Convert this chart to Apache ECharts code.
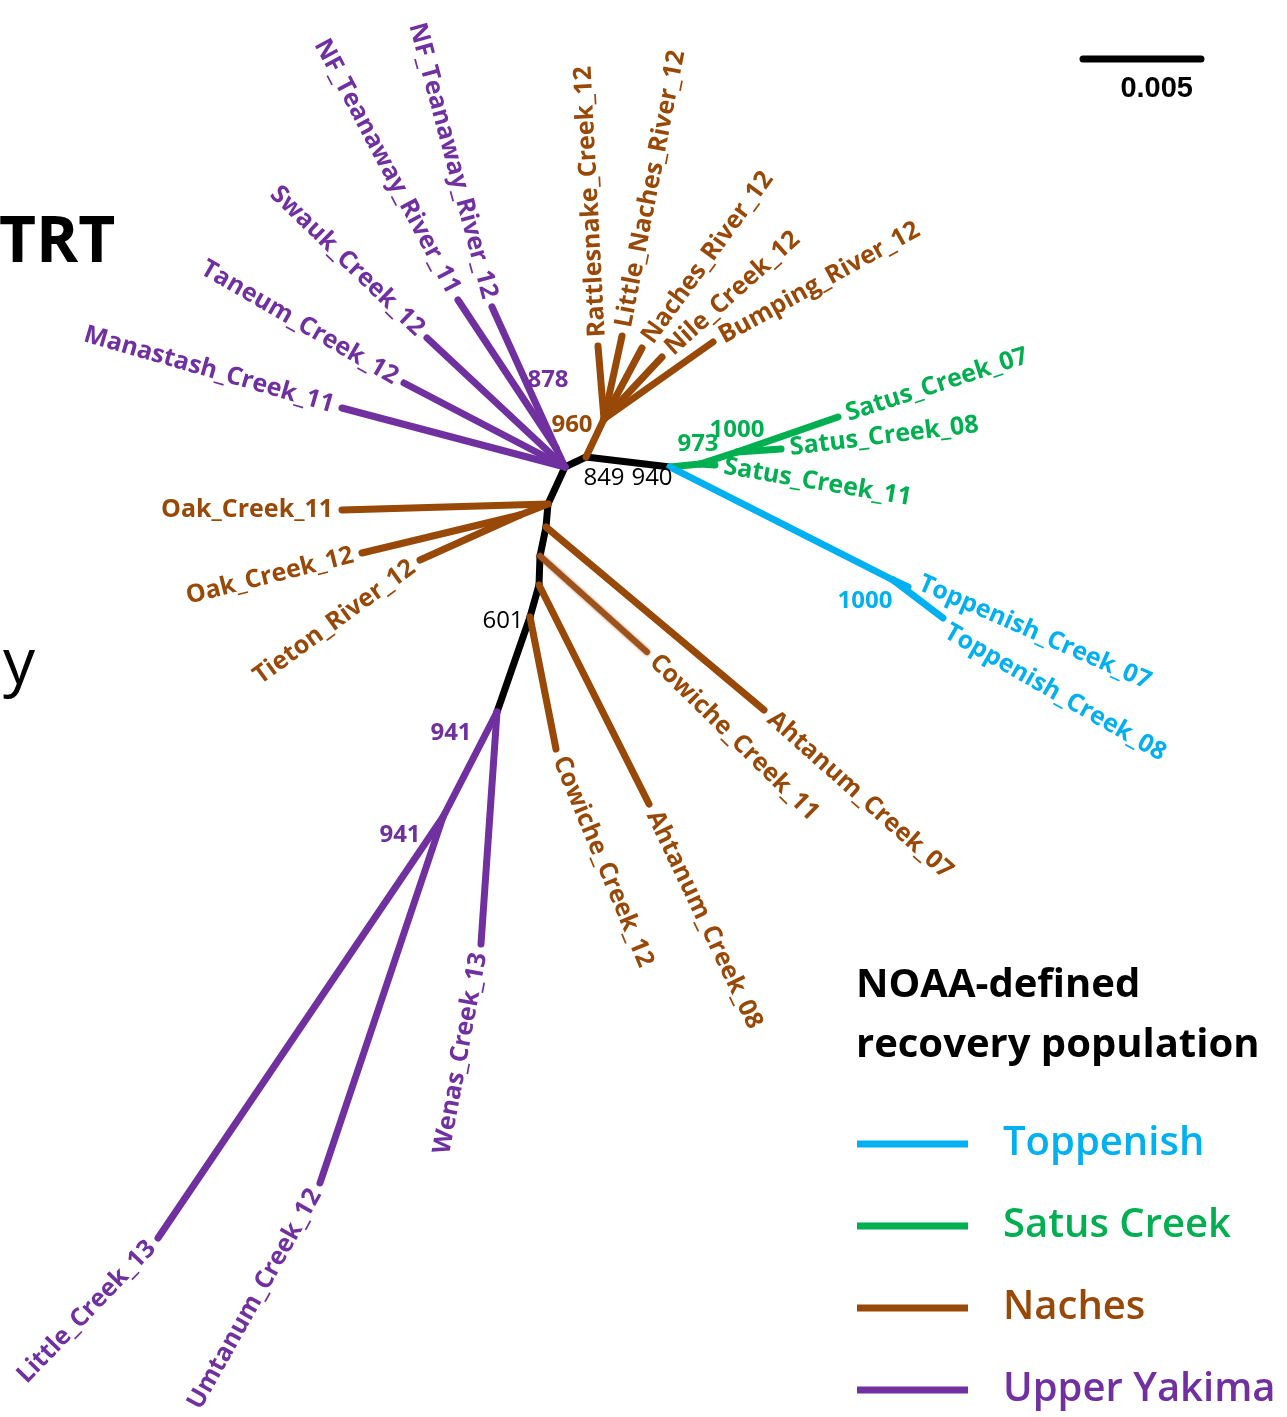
<!DOCTYPE html>
<html>
<head>
<meta charset="utf-8">
<title>Yakima steelhead NJ tree</title>
<script src="https://cdn.jsdelivr.net/npm/echarts@6/dist/echarts.min.js"></script>
<style>
  html, body { margin: 0; padding: 0; background: #ffffff; }
  #chart { width: 1287px; height: 1417px; }
</style>
</head>
<body>
<div id="chart"></div>
<script>
// Unrooted neighbour-joining tree of Yakima basin steelhead collections.
// Node positions are given in layout units (x to the right, y downward);
// 118 layout units correspond to 0.005 substitutions/site (scale bar).

const populations = ['Toppenish', 'Satus Creek', 'Naches', 'Upper Yakima'];

// Internal nodes of the tree
const nodeIds     = ['c', 'yak', 'nf', 'nchUp', 'sat', 'g973', 'g1000', 'top', 'oak', 'oak2', 'a7', 'c11', 'a8', 'n601', 'w941', 'lu941'];
const nodeX       = [586, 565, 556, 604, 670, 700, 737, 893, 548, 520, 546, 540, 539, 530, 497, 443];
const nodeY       = [457, 467, 448, 419, 467, 464, 452, 580, 504, 515, 527, 556, 585, 617, 712, 817];
const nodeParent  = [null, 'c', 'yak', 'c', 'c', 'sat', 'g973', 'sat', 'yak', 'oak', 'oak', 'a7', 'c11', 'a8', 'n601', 'w941'];
const nodeGroup   = ['backbone', 'backbone', 'Upper Yakima', 'Naches', 'backbone', 'Satus Creek', 'Satus Creek', 'Toppenish',
                     'backbone', 'Naches', 'backbone', 'backbone', 'backbone', 'backbone', 'backbone', 'Upper Yakima'];
const nodeSupport = [849, null, 878, 960, 940, 973, 1000, 1000, null, null, null, null, null, 601, 941, 941];

// Terminal collections
const tipNames = [
  'Manastash_Creek_11', 'Taneum_Creek_12', 'Swauk_Creek_12', 'NF_Teanaway_River_11', 'NF_Teanaway_River_12',
  'Rattlesnake_Creek_12', 'Little_Naches_River_12', 'Naches_River_12', 'Nile_Creek_12', 'Bumping_River_12',
  'Satus_Creek_07', 'Satus_Creek_08', 'Satus_Creek_11', 'Toppenish_Creek_07', 'Toppenish_Creek_08',
  'Oak_Creek_11', 'Oak_Creek_12', 'Tieton_River_12', 'Ahtanum_Creek_07', 'Cowiche_Creek_11',
  'Ahtanum_Creek_08', 'Cowiche_Creek_12', 'Wenas_Creek_13', 'Umtanum_Creek_12', 'Little_Creek_13'
];
const tipX = [342, 404, 427, 458, 492, 598, 622, 642, 662, 713, 838, 781, 715, 908, 943, 342, 362, 420, 764, 647, 649, 556, 481, 320, 158];
const tipY = [408, 383, 338, 300, 307, 346, 336, 348, 357, 342, 417, 449, 465, 587, 618, 510, 553, 560, 710, 652, 804, 749, 944, 1183, 1238];
const tipParent = [
  'yak', 'yak', 'yak', 'nf', 'nf',
  'nchUp', 'nchUp', 'nchUp', 'nchUp', 'nchUp',
  'g1000', 'g1000', 'g973', 'top', 'top',
  'oak', 'oak2', 'oak2', 'a7', 'c11',
  'a8', 'n601', 'w941', 'lu941', 'lu941'
];
const tipGroup = [
  'Upper Yakima', 'Upper Yakima', 'Upper Yakima', 'Upper Yakima', 'Upper Yakima',
  'Naches', 'Naches', 'Naches', 'Naches', 'Naches',
  'Satus Creek', 'Satus Creek', 'Satus Creek', 'Toppenish', 'Toppenish',
  'Naches', 'Naches', 'Naches', 'Naches', 'Naches',
  'Naches', 'Naches', 'Upper Yakima', 'Upper Yakima', 'Upper Yakima'
];

// Scale bar
const scaleBarSubst = 0.005;
const layoutUnitsPerSubst = 23600;

// ---------- styling ----------
const COLORS = {
  'Toppenish': '#00b0f0',
  'Satus Creek': '#00b050',
  'Naches': '#984807',
  'Upper Yakima': '#7030a0',
  'backbone': '#000000'
};
const BRANCH_WIDTH = 7;
const LABEL_FONT = '"Open Sans", sans-serif';
const LABEL_GAP = 9;

// direction (degrees, clockwise from +x on screen) in which each tip label runs away from its tip
const tipLabelAngle = {
  Manastash_Creek_11: 196, Taneum_Creek_12: 210, Swauk_Creek_12: 224, NF_Teanaway_River_11: 242, NF_Teanaway_River_12: 255,
  Rattlesnake_Creek_12: 267, Little_Naches_River_12: 281, Naches_River_12: 306, Nile_Creek_12: 318, Bumping_River_12: 331,
  Satus_Creek_07: 342, Satus_Creek_08: 353, Satus_Creek_11: 9.6, Toppenish_Creek_07: 23.6, Toppenish_Creek_08: 29.8,
  Oak_Creek_11: 180, Oak_Creek_12: 166, Tieton_River_12: 144, Ahtanum_Creek_07: 41.6, Cowiche_Creek_11: 44.5,
  Ahtanum_Creek_08: 64.5, Cowiche_Creek_12: 67.4, Wenas_Creek_13: 100.5, Umtanum_Creek_12: 119.3, Little_Creek_13: 134
};
// sideways nudge (px, clockwise-perpendicular) to keep neighbouring labels apart
const tipLabelShift = { Toppenish_Creek_07: -9, Toppenish_Creek_08: 9 };

// bootstrap value placement (pixel offset from the node) and colour overrides
const supportStyle = {
  c:     { dx: 18,  dy: 21,  color: 'backbone' },
  nf:    { dx: -8,  dy: -68 },
  nchUp: { dx: -32, dy: 6 },
  sat:   { dx: -18, dy: 11,  color: 'backbone' },
  g973:  { dx: -2,  dy: -20 },
  g1000: { dx: 0,   dy: -22 },
  top:   { dx: -28, dy: 21 },
  n601:  { dx: -27, dy: 4,   color: 'backbone' },
  w941:  { dx: -46, dy: 21,  color: 'Upper Yakima' },
  lu941: { dx: -43, dy: 18 }
};

// branches drawn with a softened edge
const softBranches = ['Cowiche_Creek_11'];

// ---------- build edge list ----------
function nodeCoord(id) {
  const i = nodeIds.indexOf(id);
  return [nodeX[i], nodeY[i]];
}
const edges = [];
nodeIds.forEach((id, i) => {
  if (nodeParent[i]) {
    const p = nodeCoord(nodeParent[i]);
    edges.push({ name: id, group: nodeGroup[i], value: [p[0], p[1], nodeX[i], nodeY[i]] });
  }
});
tipNames.forEach((name, i) => {
  const p = nodeCoord(tipParent[i]);
  edges.push({ name: name, group: tipGroup[i], value: [p[0], p[1], tipX[i], tipY[i]] });
});

function branchSeries(group, z) {
  const data = edges.filter(e => e.group === group).map(e => ({ name: e.name, value: e.value }));
  return {
    type: 'custom',
    name: group,
    coordinateSystem: 'cartesian2d',
    silent: true,
    z: z,
    itemStyle: { color: COLORS[group] },
    encode: { x: [0, 2], y: [1, 3] },
    data: data,
    renderItem: function (params, api) {
      const a = api.coord([api.value(0), api.value(1)]);
      const b = api.coord([api.value(2), api.value(3)]);
      const soft = softBranches.indexOf(data[params.dataIndex].name) >= 0;
      const style = { stroke: COLORS[group], lineWidth: BRANCH_WIDTH, lineCap: 'round' };
      if (soft) {
        style.stroke = '#9c521a';
        style.lineWidth = BRANCH_WIDTH - 1;
        style.shadowBlur = 3;
        style.shadowColor = 'rgba(156,82,26,0.8)';
      }
      return { type: 'line', shape: { x1: a[0], y1: a[1], x2: b[0], y2: b[1] }, style: style };
    }
  };
}

const tipLabelSeries = {
  type: 'custom',
  coordinateSystem: 'cartesian2d',
  silent: true,
  z: 5,
  encode: { x: 0, y: 1 },
  data: tipNames.map((n, i) => [tipX[i], tipY[i], i]),
  renderItem: function (params, api) {
    const i = api.value(2);
    const name = tipNames[i];
    const p = api.coord([api.value(0), api.value(1)]);
    const th = tipLabelAngle[name] * Math.PI / 180;
    const flip = Math.cos(th) < -0.1;
    const phi = flip ? th - Math.PI : th;
    const s = tipLabelShift[name] || 0;
    return {
      type: 'text',
      x: p[0] + LABEL_GAP * Math.cos(th) - s * Math.sin(th),
      y: p[1] + LABEL_GAP * Math.sin(th) + s * Math.cos(th),
      rotation: -phi,
      style: {
        text: name,
        fill: COLORS[tipGroup[i]],
        fontFamily: LABEL_FONT,
        fontWeight: 700,
        fontSize: 25,
        align: flip ? 'right' : 'left',
        verticalAlign: 'middle'
      }
    };
  }
};

const supportIdx = nodeIds.map((id, i) => i).filter(i => nodeSupport[i] != null);
const supportSeries = {
  type: 'custom',
  coordinateSystem: 'cartesian2d',
  silent: true,
  z: 6,
  encode: { x: 0, y: 1 },
  data: supportIdx.map(i => [nodeX[i], nodeY[i], i]),
  renderItem: function (params, api) {
    const i = api.value(2);
    const st = supportStyle[nodeIds[i]] || { dx: 0, dy: 0 };
    const colorKey = st.color || nodeGroup[i];
    const p = api.coord([api.value(0), api.value(1)]);
    return {
      type: 'text',
      x: p[0] + st.dx,
      y: p[1] + st.dy,
      style: {
        text: String(nodeSupport[i]),
        fill: COLORS[colorKey],
        fontFamily: LABEL_FONT,
        fontWeight: colorKey === 'backbone' ? 400 : 700,
        fontSize: 24,
        align: 'center',
        verticalAlign: 'middle'
      }
    };
  }
};

const scaleBarStart = [1083, 59];
const scaleBarSeries = {
  type: 'custom',
  coordinateSystem: 'cartesian2d',
  silent: true,
  z: 6,
  encode: { x: [0, 2], y: [1, 3] },
  data: [[scaleBarStart[0], scaleBarStart[1], scaleBarStart[0] + scaleBarSubst * layoutUnitsPerSubst, scaleBarStart[1]]],
  renderItem: function (params, api) {
    const a = api.coord([api.value(0), api.value(1)]);
    const b = api.coord([api.value(2), api.value(3)]);
    return {
      type: 'group',
      children: [
        { type: 'line', shape: { x1: a[0], y1: a[1], x2: b[0], y2: b[1] },
          style: { stroke: '#000', lineWidth: 7, lineCap: 'round' } },
        { type: 'text', x: b[0] - 8, y: a[1] + 30,
          style: { text: String(scaleBarSubst), fill: '#000', fontFamily: '"Liberation Sans", Arial, sans-serif',
                   fontWeight: 700, fontSize: 29, align: 'right', verticalAlign: 'middle' } }
      ]
    };
  }
};

const chart = echarts.init(document.getElementById('chart'), null, { renderer: 'canvas' });
chart.setOption({
  animation: false,
  backgroundColor: '#ffffff',
  title: [
    { text: 'TRT', left: -1, top: 212, padding: 0,
      textStyle: { fontFamily: LABEL_FONT, fontWeight: 'bold', fontSize: 64, color: '#000' } },
    { text: 'y', left: 3, top: 634, padding: 0,
      textStyle: { fontFamily: LABEL_FONT, fontWeight: 'normal', fontSize: 64, color: '#000' } },
    { text: 'NOAA-defined\nrecovery population', left: 856, top: 956, padding: 0,
      textStyle: { fontFamily: LABEL_FONT, fontWeight: 'bold', fontSize: 40, lineHeight: 60, color: '#000' } }
  ],
  legend: {
    orient: 'vertical',
    left: 857,
    top: 1122,
    padding: 0,
    itemGap: 38,
    itemWidth: 111,
    itemHeight: 7,
    icon: 'rect',
    selectedMode: false,
    data: populations.map(p => ({
      name: p,
      textStyle: { color: COLORS[p] }
    })),
    textStyle: { fontFamily: LABEL_FONT, fontWeight: 600, fontSize: 40, lineHeight: 44, padding: [0, 0, 0, 30] }
  },
  grid: { left: 0, right: 0, top: 0, bottom: 0, containLabel: false },
  xAxis: { type: 'value', min: 0, max: 1287, show: false },
  yAxis: { type: 'value', min: 0, max: 1417, inverse: true, show: false },
  series: [
    branchSeries('backbone', 1),
    branchSeries('Upper Yakima', 2),
    branchSeries('Naches', 2),
    branchSeries('Satus Creek', 2),
    branchSeries('Toppenish', 2),
    tipLabelSeries,
    supportSeries,
    scaleBarSeries
  ]
});
</script>
</body>
</html>
